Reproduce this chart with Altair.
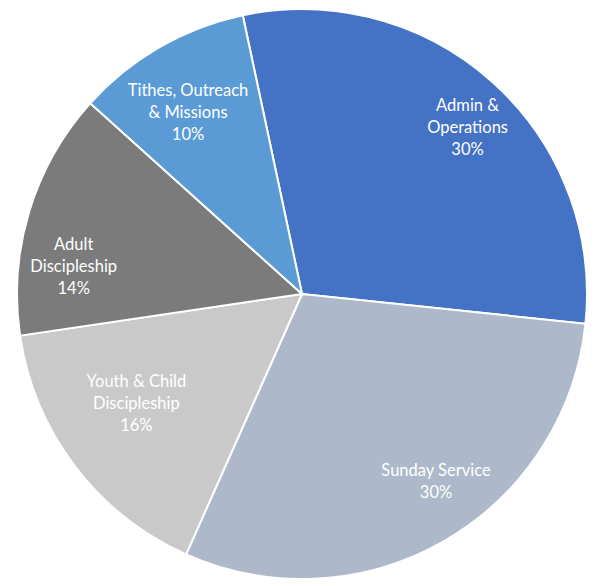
import altair as alt
import pandas as pd
import math

categories = ["Admin & Operations", "Sunday Service", "Youth & Child Discipleship",
              "Adult Discipleship", "Tithes, Outreach & Missions"]
labels = ["Admin &\nOperations\n30%", "Sunday Service\n30%", "Youth & Child\nDiscipleship\n16%",
          "Adult\nDiscipleship\n14%", "Tithes, Outreach\n& Missions\n10%"]
values = [30, 30, 16, 14, 10]
colors = ["#4472C4", "#ADB9CA", "#C9C9C9", "#7B7B7B", "#5B9BD5"]

df = pd.DataFrame({"category": categories, "label": labels, "value": values,
                   "order": list(range(len(values)))})

start = math.radians(-12)
theta_range = [start, start + 2 * math.pi]

base = alt.Chart(df).transform_window(
    cum="sum(value)", sort=[alt.SortField("order")]
).transform_joinaggregate(
    total="sum(value)"
).transform_calculate(
    t0="(datum.cum - datum.value) / datum.total",
    t1="datum.cum / datum.total",
    mid="(datum.cum - datum.value / 2) / datum.total",
)

theta_scale = alt.Scale(domain=[0, 1], range=theta_range)

pie = base.mark_arc(radius=285, stroke="white", strokeWidth=2).encode(
    theta=alt.Theta("t0:Q", scale=theta_scale),
    theta2="t1:Q",
    color=alt.Color("category:N", scale=alt.Scale(domain=categories, range=colors), legend=None),
)

# label placement nudges (like Excel's "best fit" data-label placement)
nudges = {
    "Admin & Operations": (13, 1),
    "Sunday Service": (20, 0),
    "Youth & Child Discipleship": (16, -30),
    "Adult Discipleship": (-10, 37),
    "Tithes, Outreach & Missions": (0, 14),
}

text_layers = []
for cat in categories:
    ndx, ndy = nudges[cat]
    t = base.transform_filter(alt.datum.category == cat).mark_text(
        radius=228, dx=ndx, dy=-20 + ndy, fontSize=16.5, font="Lato", color="white",
        lineBreak="\n", lineHeight=22, align="center", baseline="middle",
    ).encode(
        theta=alt.Theta("mid:Q", scale=theta_scale),
        text="label:N",
    )
    text_layers.append(t)

chart = alt.layer(pie, *text_layers).properties(
    width=574, height=568,
    padding={"left": 7, "top": 2, "right": 0, "bottom": 0},
    autosize=alt.AutoSizeParams(type="none"),
).configure_view(stroke=None)

chart.save("out.html", embed_options={"renderer": "svg", "actions": False})
